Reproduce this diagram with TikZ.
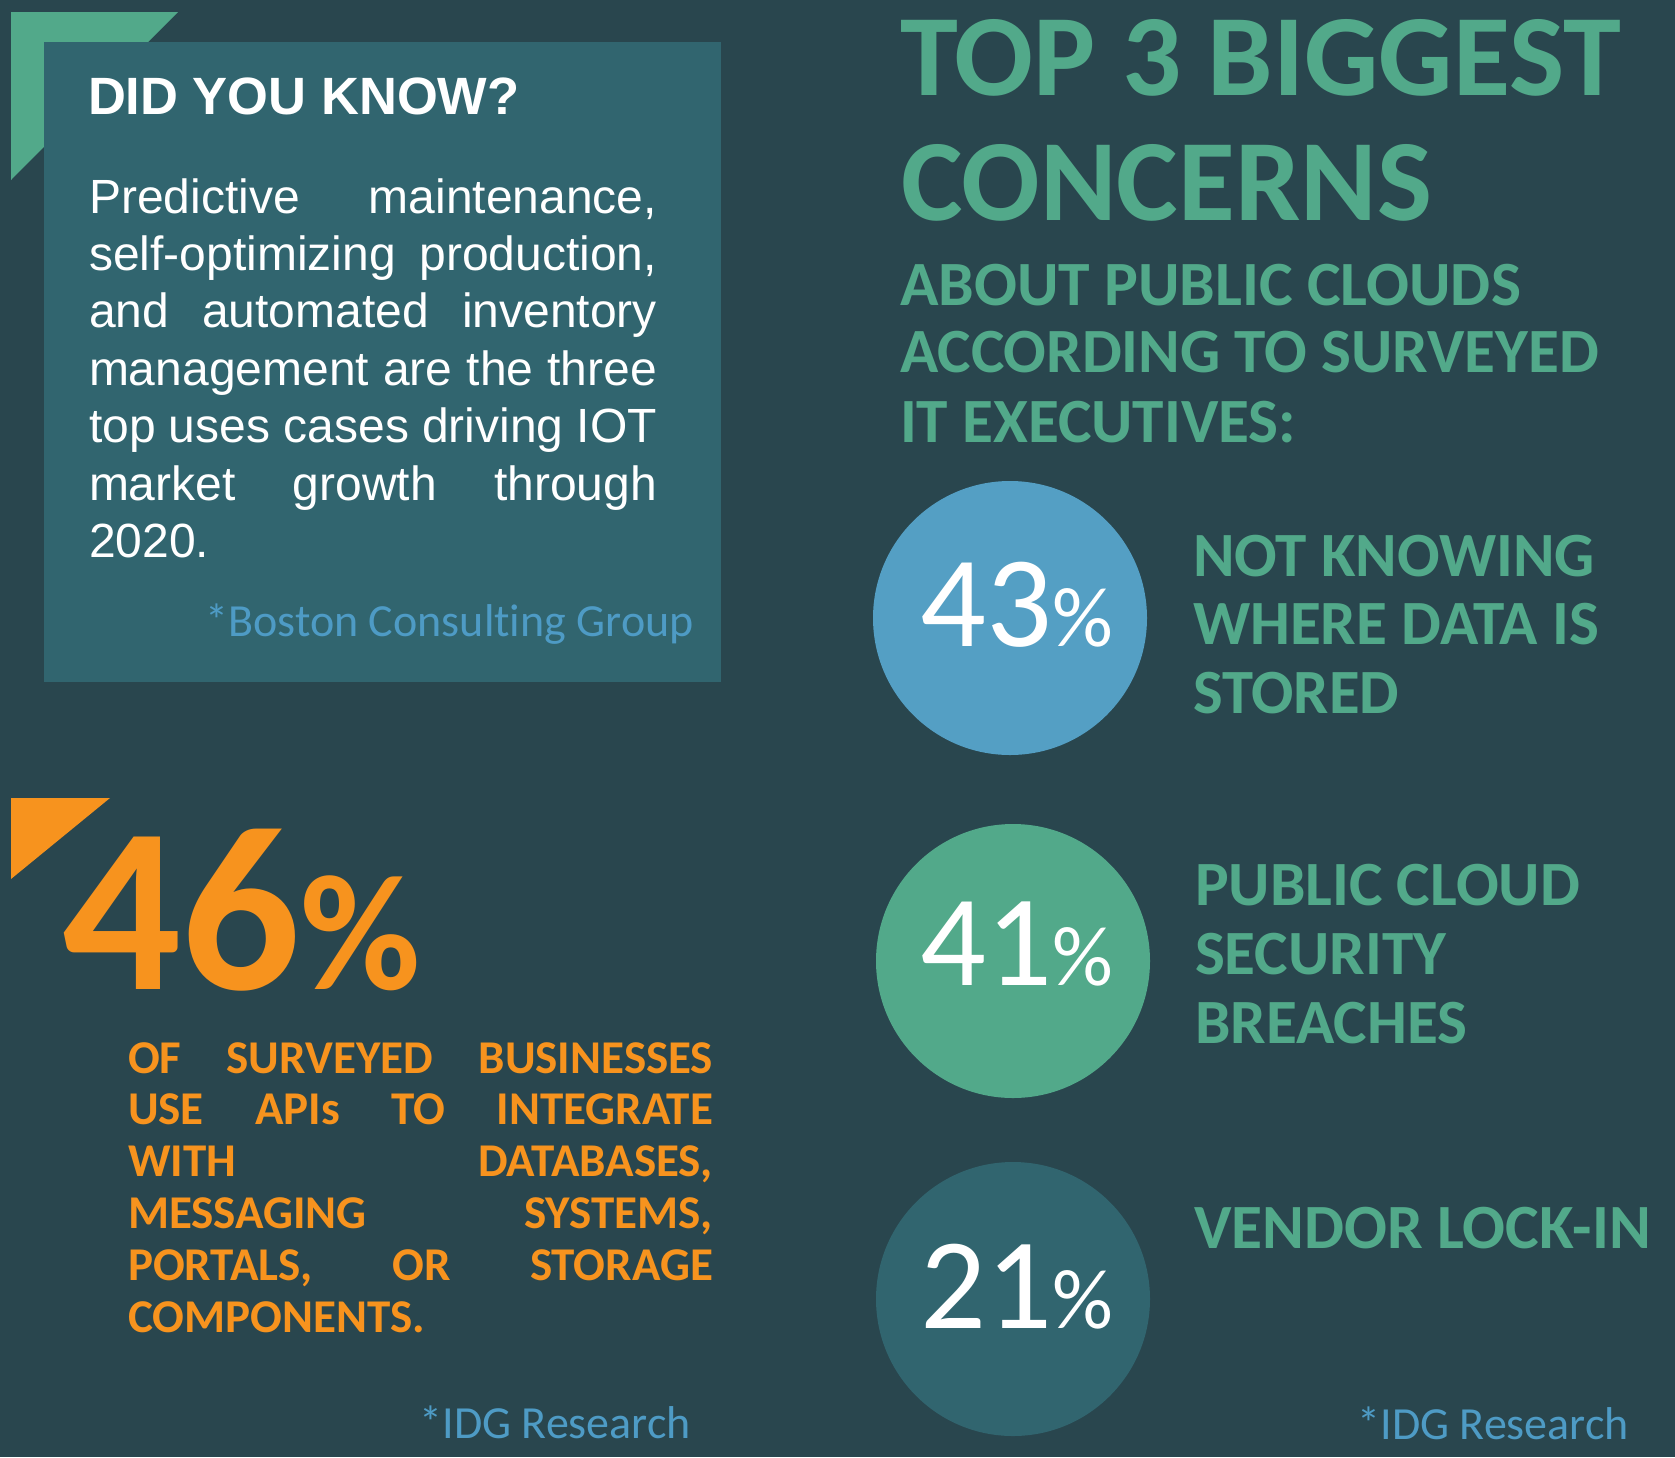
\documentclass[tikz,border=0pt]{standalone}
\usepackage{fontspec}
\usepackage{graphicx}
\setmainfont{Carlito}[Ligatures=NoCommon]
\newfontfamily\arialfont{Liberation Sans}
\definecolor{bgslate}{HTML}{29464E}
\definecolor{boxteal}{HTML}{31656F}
\definecolor{mintgreen}{HTML}{52A98A}
\definecolor{skyblue}{HTML}{549FC4}
\definecolor{srcblue}{HTML}{4E9BC5}
\definecolor{apiorange}{HTML}{F7931E}
% one line stretched to a given width, height kept
\newcommand{\fitline}[2]{\resizebox{#1pt}{\height}{#2}}
\tikzset{
  txt/.style={anchor=base west,inner sep=0pt,outer sep=0pt},
  pct/.style={anchor=base,inner sep=0pt,text=white,font=\fontsize{130}{130}\selectfont},
  bubble/.style={circle,inner sep=0pt,minimum size=274pt}
}
\begin{document}
\begin{tikzpicture}[line cap=round,line join=round,x=1pt,y=-1pt]
\fill[color=bgslate] (0,0) rectangle (1675,1457);
% did you know box
\fill[color=mintgreen] (11,12) -- (178,12) -- (11,180) -- cycle;
\fill[color=boxteal] (44,42) rectangle (721,682);
\node[txt,text=white,font=\arialfont\bfseries\fontsize{52.5}{60}\selectfont] (dyk) at (88,114) {DID YOU KNOW?};
\node[txt,text=white,font=\arialfont\fontsize{48}{57.4}\selectfont] (dyktext) at (89,213) {\parbox[t]{568pt}{%
\makebox[568pt][s]{Predictive maintenance,}\\
\makebox[568pt][s]{self-optimizing production,}\\
\makebox[568pt][s]{and automated inventory}\\
\makebox[568pt][s]{management are the three}\\
\makebox[568pt][s]{top uses cases driving IOT}\\
\makebox[568pt][s]{market growth through}\\
2020.}};
\node[anchor=base east,inner sep=0pt,text=srcblue,font=\fontsize{46}{50}\selectfont] (bcg) at (694,636) {*Boston Consulting Group};
% 46 percent
\fill[color=apiorange] (11,798) -- (110,798) -- (11,879) -- cycle;
\node[txt,text=apiorange,font=\bfseries\fontsize{235}{235}\selectfont] (big) at (62,989) {46\fontsize{165}{165}\selectfont\%};
\node[txt,text=apiorange,font=\bfseries\fontsize{47}{51.8}\selectfont] (apitext) at (128,1073) {\parbox[t]{585pt}{%
\makebox[585pt][s]{OF SURVEYED BUSINESSES}\\
\makebox[585pt][s]{USE APIs TO INTEGRATE}\\
\makebox[585pt][s]{WITH DATABASES,}\\
\makebox[585pt][s]{MESSAGING SYSTEMS,}\\
\makebox[585pt][s]{PORTALS, OR STORAGE}\\
COMPONENTS.}};
\node[anchor=base east,inner sep=0pt,text=srcblue,font=\fontsize{46}{50}\selectfont] (idgleft) at (691,1438) {*IDG Research};
% top 3 concerns
\node[txt,text=mintgreen,font=\bfseries\fontsize{116}{116}\selectfont] (top1) at (900,95) {\fitline{721}{TOP 3 BIGGEST}};
\node[txt,text=mintgreen,font=\bfseries\fontsize{116}{116}\selectfont] (top2) at (901,220) {\fitline{531}{CONCERNS}};
\node[txt,text=mintgreen,font=\bfseries\fontsize{63}{67}\selectfont] (sub1) at (900,305) {\fitline{621}{ABOUT PUBLIC CLOUDS}};
\node[txt,text=mintgreen,font=\bfseries\fontsize{63}{67}\selectfont] (sub2) at (900,372) {\fitline{699}{ACCORDING TO SURVEYED}};
\node[txt,text=mintgreen,font=\bfseries\fontsize{63}{67}\selectfont] (sub3) at (900,442) {\fitline{396}{IT EXECUTIVES:}};
% bubbles
\node[bubble,fill=skyblue] (c43) at (1010,618) {};
\node[bubble,fill=mintgreen] (c41) at (1013,961) {};
\node[bubble,fill=boxteal] (c21) at (1013,1299) {};
\node[pct] (n43) at (1017,646) {43\fontsize{85}{85}\selectfont\%};
\node[pct] (n41) at (1017,985) {41\fontsize{85}{85}\selectfont\%};
\node[pct] (n21) at (1017,1328) {21\fontsize{85}{85}\selectfont\%};
\node[txt,text=mintgreen,font=\bfseries\fontsize{63}{68.7}\selectfont] (l43) at (1193,576) {\parbox[t]{480pt}{%
\fitline{402}{NOT KNOWING}\\
\fitline{406}{WHERE DATA IS}\\
\fitline{206}{STORED}}};
\node[txt,text=mintgreen,font=\bfseries\fontsize{63}{69.3}\selectfont] (l41) at (1195,905) {\parbox[t]{480pt}{%
\fitline{385}{PUBLIC CLOUD}\\
\fitline{251}{SECURITY}\\
\fitline{272}{BREACHES}}};
\node[txt,text=mintgreen,font=\bfseries\fontsize{63}{68}\selectfont] (l21) at (1194,1248) {\fitline{457}{VENDOR LOCK-IN}};
\node[anchor=base east,inner sep=0pt,text=srcblue,font=\fontsize{46}{50}\selectfont] (idgright) at (1629,1439) {*IDG Research};
\end{tikzpicture}
\end{document}
